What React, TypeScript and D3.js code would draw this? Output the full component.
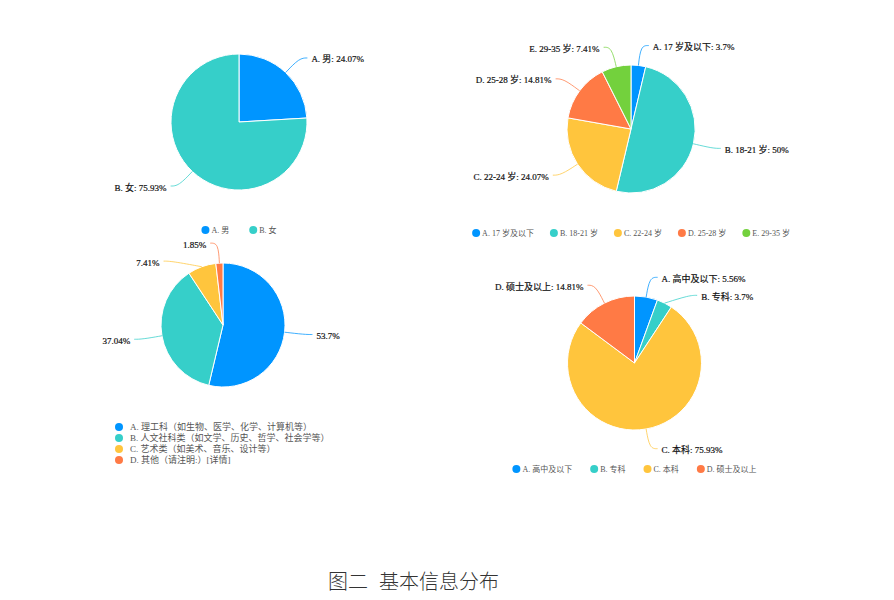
import React from 'react';
import * as d3 from 'd3';

const COLORS = ['#0095ff', '#36cfc9', '#ffc53d', '#ff7a45', '#73d13d'];

const genderCategories = ['A. 男', 'B. 女'];
const genderValues = [24.07, 75.93];

const ageCategories = ['A. 17 岁及以下', 'B. 18-21 岁', 'C. 22-24 岁', 'D. 25-28 岁', 'E. 29-35 岁'];
const ageValues = [3.7, 50, 24.07, 14.81, 7.41];

const majorCategories = [
  'A. 理工科（如生物、医学、化学、计算机等）',
  'B. 人文社科类（如文学、历史、哲学、社会学等）',
  'C. 艺术类（如美术、音乐、设计等）',
  'D. 其他（请注明:）[详情]',
];
const majorValues = [53.7, 37.04, 7.41, 1.85];

const eduCategories = ['A. 高中及以下', 'B. 专科', 'C. 本科', 'D. 硕士及以上'];
const eduValues = [5.56, 3.7, 75.93, 14.81];

const captionMain = '图二';
const captionSub = '基本信息分布';

const FONT = "'Liberation Serif', 'Times New Roman', 'Noto Sans CJK SC', serif";
const LABEL_SIZE = 9;
const LEGEND_SIZE = 8;

let ctx: CanvasRenderingContext2D | null = null;
function measure(text: string, size: number): number {
  if (!ctx) {
    const c = document.createElement('canvas');
    ctx = c.getContext('2d');
  }
  if (!ctx) return text.length * size * 0.7;
  ctx.font = `${size}px ${FONT}`;
  return ctx.measureText(text).width;
}

type PieProps = {
  cx: number;
  cy: number;
  r: number;
  categories: string[];
  values: number[];
  showCategory: boolean;
  legend: { type: 'h' | 'v'; x?: number; y: number; gap?: number };
};

function PieChart({ cx, cy, r, categories, values, showCategory, legend }: PieProps) {
  const pie = d3.pie<number>().sort(null).value((d) => d);
  const arcs = pie(values);
  const arcGen = d3.arc<d3.PieArcDatum<number>>().innerRadius(0).outerRadius(r);

  const R = r + 20;
  const L2 = 8;
  const GAP = 4;
  const MIN = 18;
  const items = arcs.map((a, i) => {
    const mid = (a.startAngle + a.endAngle) / 2;
    const s = Math.sin(mid);
    const c = -Math.cos(mid);
    return {
      i,
      right: s >= 0,
      p1: [cx + r * s, cy + r * c] as [number, number],
      x2: cx + R * s,
      y: cy + R * c,
    };
  });
  [true, false].forEach((side) => {
    const g = items.filter((d) => d.right === side).sort((a, b) => a.y - b.y);
    for (let k = 1; k < g.length; k++) {
      if (g[k].y - g[k - 1].y < MIN) g[k].y = g[k - 1].y + MIN;
    }
    g.forEach((d) => {
      const dy = d.y - cy;
      d.x2 = cx + (side ? 1 : -1) * Math.sqrt(Math.max(0, R * R - dy * dy));
    });
  });

  const line = d3.line().curve(d3.curveBasis);

  let legendEls: React.ReactNode[] = [];
  if (legend.type === 'h') {
    const gapItems = legend.gap ?? 18;
    const widths = categories.map((c) => 10 + measure(c, LEGEND_SIZE));
    const total = d3.sum(widths) + gapItems * (categories.length - 1);
    let x = cx - total / 2;
    legendEls = categories.map((c, i) => {
      const x0 = x;
      x += widths[i] + gapItems;
      return (
        <g key={i}>
          <circle cx={x0 + 4} cy={legend.y} r={4} fill={COLORS[i]} />
          <text x={x0 + 10} y={legend.y} dy="0.35em" fontSize={LEGEND_SIZE} fill="#555" fontFamily={FONT}>
            {c}
          </text>
        </g>
      );
    });
  } else {
    legendEls = categories.map((c, i) => (
      <g key={i}>
        <circle cx={legend.x!} cy={legend.y + i * 11} r={4} fill={COLORS[i]} />
        <text x={legend.x! + 11} y={legend.y + i * 11} dy="0.35em" fontSize={9} fill="#555" fontFamily={FONT}>
          {c}
        </text>
      </g>
    ));
  }

  return (
    <g>
      <g transform={`translate(${cx},${cy})`}>
        {arcs.map((a, i) => (
          <path key={i} d={arcGen(a) || ''} fill={COLORS[i]} stroke="#fff" strokeWidth={1} />
        ))}
      </g>
      {items.map((d) => {
        const x3 = d.x2 + (d.right ? L2 : -L2);
        const pts: [number, number][] = [d.p1, [d.x2, d.y], [x3, d.y]];
        const label = showCategory ? `${categories[d.i]}: ${values[d.i]}%` : `${values[d.i]}%`;
        return (
          <g key={d.i}>
            <path d={line(pts) || ''} fill="none" stroke={COLORS[d.i]} strokeOpacity={0.75} strokeWidth={1} />
            <text
              x={x3 + (d.right ? GAP : -GAP)}
              y={d.y}
              dy="0.5em"
              textAnchor={d.right ? 'start' : 'end'}
              fontSize={LABEL_SIZE}
              fill="#111"
              stroke="#111"
              strokeWidth={0.2}
              fontFamily={FONT}
            >
              {label}
            </text>
          </g>
        );
      })}
      {legendEls}
    </g>
  );
}

export default function App() {
  return (
    <svg
      width={894}
      height={600}
      style={{ position: 'absolute', left: 0, top: 0, background: '#fff' }}
    >
      <rect width={894} height={600} fill="#fff" />
      <PieChart cx={239} cy={122} r={68} categories={genderCategories} values={genderValues} showCategory legend={{ type: 'h', y: 230, gap: 20 }} />
      <PieChart cx={631} cy={129} r={64} categories={ageCategories} values={ageValues} showCategory legend={{ type: 'h', y: 233, gap: 16 }} />
      <PieChart cx={223} cy={325} r={62} categories={majorCategories} values={majorValues} showCategory={false} legend={{ type: 'v', x: 119, y: 427 }} />
      <PieChart cx={634.5} cy={363} r={67} categories={eduCategories} values={eduValues} showCategory legend={{ type: 'h', y: 469, gap: 18 }} />
      <text x={328} y={589} fontSize={20} fill="#333" fontWeight={300} fontFamily="'Noto Sans CJK SC', sans-serif">
        {captionMain}
        <tspan dx={11}>{captionSub}</tspan>
      </text>
    </svg>
  );
}
